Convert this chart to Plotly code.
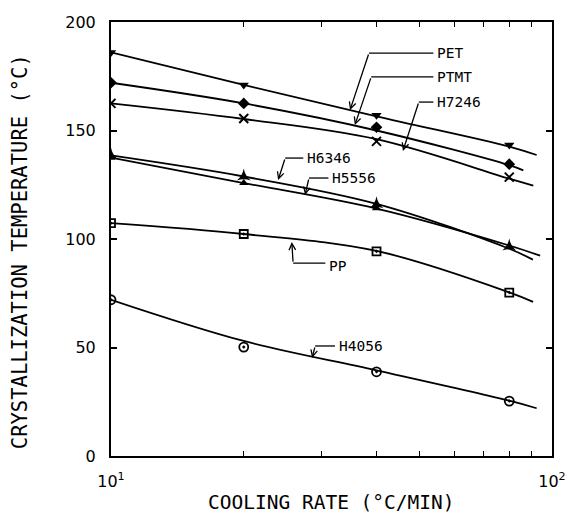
import plotly.graph_objects as go

# Cooling rates (degC/min) at which each sample was measured
rates = [10, 20, 40, 80]

# Measured crystallization temperatures (degC)
pet = [186, 171, 157, 143.3]
ptmt = [172, 162.5, 151.5, 134.5]
h7246 = [162.5, 155.5, 145, 128.5]
h6346 = [138.5, 128.8, 116, 96.5]
h5556 = [137.5, 125.8, 114.2, 96.5]
pp = [107.3, 102.3, 94.3, 75.3]
h4056 = [72, 50.2, 38.8, 25.3]

# Smoothed trend curves drawn through each data set
pet_fit_x = [10, 20, 40, 80, 92.3]
pet_fit_y = [186, 171, 156.5, 142.6, 138.7]
ptmt_fit_x = [10, 20, 40, 80, 86.1]
ptmt_fit_y = [172, 162.5, 150, 134, 131.6]
h7246_fit_x = [10, 20, 40, 80, 90.7]
h7246_fit_y = [162.5, 155.3, 146, 127.8, 124.6]
h6346_fit_x = [10, 20, 40, 80, 90.5]
h6346_fit_y = [138.5, 128.8, 116.2, 95.5, 90.5]
h5556_fit_x = [10, 20, 40, 80, 94]
h5556_fit_y = [137.5, 125.8, 114, 97, 92.3]
pp_fit_x = [10, 20, 40, 80, 90.6]
pp_fit_y = [107.3, 102.3, 94.5, 75.4, 71]
h4056_fit_x = [10, 20, 40, 80, 92.3]
h4056_fit_y = [72, 53, 39.5, 25.5, 22]

series = [
    ("PET", pet, pet_fit_x, pet_fit_y, dict(symbol="triangle-down", size=9)),
    ("PTMT", ptmt, ptmt_fit_x, ptmt_fit_y, dict(symbol="diamond", size=9)),
    ("H7246", h7246, h7246_fit_x, h7246_fit_y,
     dict(symbol="x-thin-open", size=9, line=dict(width=2, color="black"))),
    ("H6346", h6346, h6346_fit_x, h6346_fit_y, dict(symbol="star-triangle-up", size=10)),
    ("H5556", h5556, h5556_fit_x, h5556_fit_y, dict(symbol="triangle-up", size=8)),
    ("PP", pp, pp_fit_x, pp_fit_y,
     dict(symbol="square-open-dot", size=8, line=dict(width=1.8, color="black"))),
    ("H4056", h4056, h4056_fit_x, h4056_fit_y,
     dict(symbol="circle-open-dot", size=9, line=dict(width=1.8, color="black"))),
]

FONT = "DejaVu Sans"
MONO = "DejaVu Sans Mono"
fig = go.Figure()

for name, vals, fx, fy, marker in series:
    fig.add_trace(go.Scatter(
        x=fx, y=fy, mode="lines", line=dict(color="black", width=1.8, shape="spline"),
        hoverinfo="skip", showlegend=False,
    ))
    fig.add_trace(go.Scatter(
        x=rates, y=vals, mode="markers", name=name,
        marker=dict(color="black", **marker), showlegend=False,
    ))

# Curve labels: text position, leader bend point(s), arrow tip (log10 rate, temperature)
labels = [
    ("PET", (1.735, 185.7), [(1.585, 185.7)], (1.542, 159.4)),
    ("PTMT", (1.735, 174.7), [(1.590, 174.7)], (1.553, 152.5)),
    ("H7246", (1.735, 163.1), [(1.698, 163.1)], (1.662, 140.6)),
    ("H6346", (1.440, 137.3), [(1.395, 137.3)], (1.379, 127.2)),
    ("H5556", (1.497, 128.1), [(1.449, 128.1)], (1.440, 120.3)),
    ("PP", (1.490, 87.6), [(1.458, 88.9), (1.413, 88.9)], (1.410, 98.6)),
    ("H4056", (1.512, 50.7), [(1.463, 50.7)], (1.456, 45.2)),
]

for text, (tx, ty), bends, (hx, hy) in labels:
    lx = [10 ** (tx - 0.004)] + [10 ** b[0] for b in bends]
    ly = [bends[0][1]] + [b[1] for b in bends]
    fig.add_trace(go.Scatter(x=lx, y=ly, mode="lines",
                             line=dict(color="black", width=1.3),
                             hoverinfo="skip", showlegend=False))
    last = bends[-1]
    fig.add_annotation(x=hx, y=hy, ax=last[0], ay=last[1], xref="x", yref="y",
                       axref="x", ayref="y", text="", showarrow=True,
                       arrowhead=5, arrowsize=1, arrowwidth=1.3, arrowcolor="black")
    fig.add_annotation(x=tx, y=ty, xref="x", yref="y", text=text, showarrow=False,
                       xanchor="left", yanchor="middle",
                       font=dict(family=MONO, size=14.5, color="black"))

# Axis titles
fig.add_annotation(x=0.5, y=-0.108, xref="paper", yref="paper",
                   text="COOLING RATE (°C/MIN)", showarrow=False,
                   xanchor="center", yanchor="middle",
                   font=dict(family=MONO, size=19.5, color="black"))
fig.add_annotation(x=-0.206, y=0.47, xref="paper", yref="paper",
                   text="CRYSTALLIZATION TEMPERATURE (°C)", showarrow=False,
                   textangle=-90, xanchor="center", yanchor="middle",
                   font=dict(family=MONO, size=20.5, color="black"))

fig.update_layout(
    width=574, height=520,
    margin=dict(l=111, r=22, t=22, b=64, autoexpand=False),
    paper_bgcolor="white", plot_bgcolor="white",
    font=dict(family=FONT, color="black"),
    xaxis=dict(
        type="log", range=[1, 2], automargin=False,
        tickvals=[10, 100], ticktext=["10<sup>1</sup>", "10<sup>2</sup>"],
        ticks="inside", ticklen=6, tickwidth=1.5, tickcolor="black",
        minor=dict(tickvals=[20, 30, 40, 50, 60, 70, 80, 90], ticks="inside",
                   ticklen=5, tickwidth=1.3, tickcolor="black"),
        showline=True, linewidth=2, linecolor="black", mirror="allticks",
        showgrid=False, zeroline=False,
        tickfont=dict(family=FONT, size=16), ticklabelstandoff=10,
    ),
    yaxis=dict(
        range=[0, 200], tickvals=[0, 50, 100, 150, 200], automargin=False,
        ticks="inside", ticklen=6, tickwidth=1.5, tickcolor="black",
        showline=True, linewidth=2, linecolor="black", mirror="allticks",
        showgrid=False, zeroline=False,
        tickfont=dict(family=FONT, size=16), ticklabelstandoff=10,
    ),
)

fig.write_html("out.html")
